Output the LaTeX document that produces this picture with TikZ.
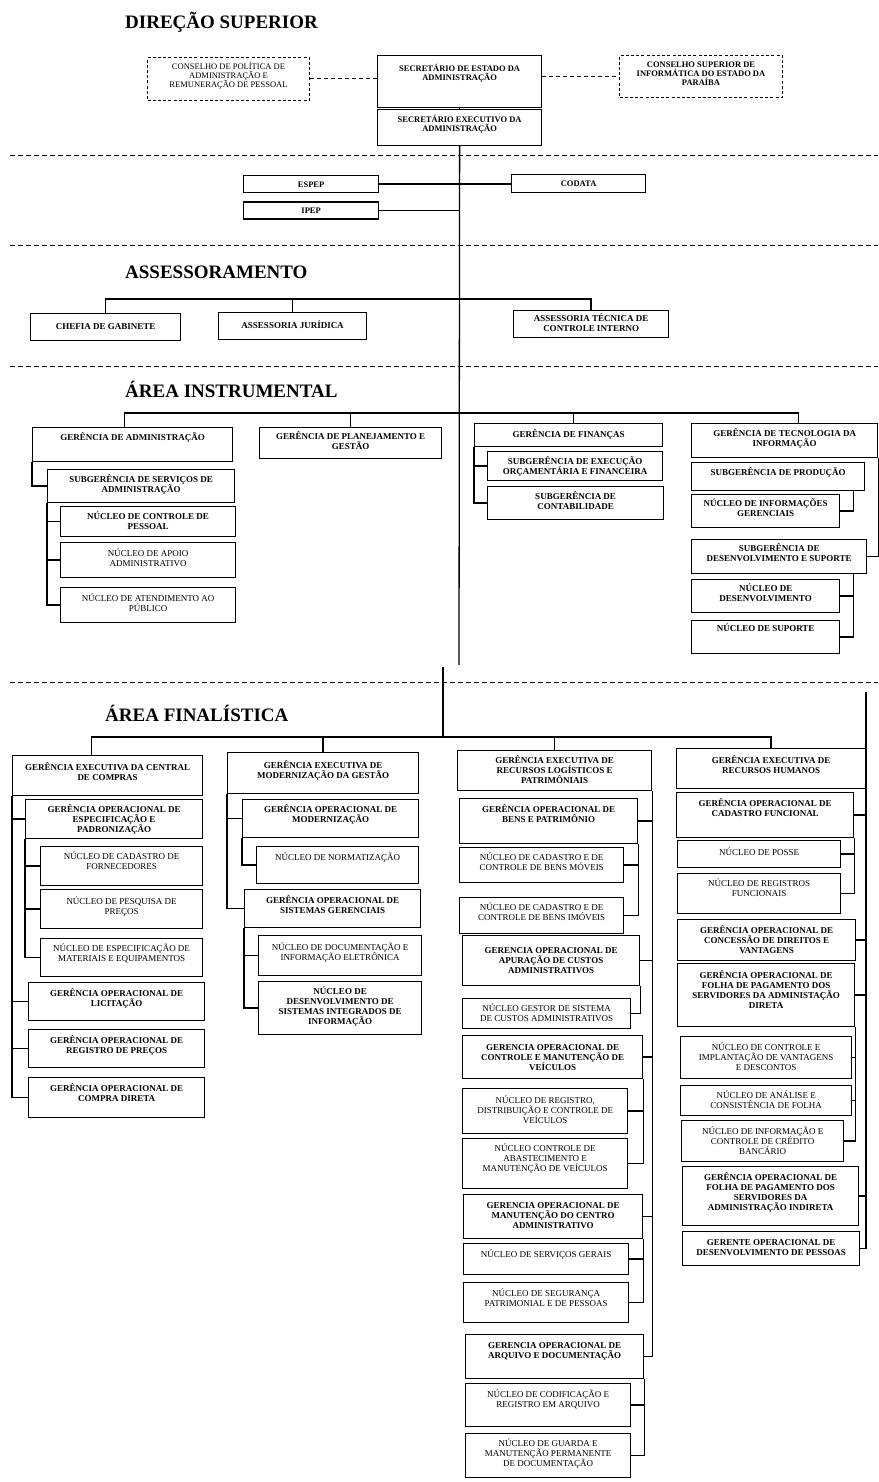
\documentclass[tikz,border=0pt]{standalone}
\usepackage{fontspec}
\setmainfont{Liberation Serif}
\usetikzlibrary{positioning}
\newcommand{\boxtext}[4][13]{\parbox[c][#3pt][t]{#2pt}{\centering\lineskiplimit=-20pt\rule{0pt}{#1pt}#4\par}}

\begin{document}
\begin{tikzpicture}[
x=1pt, y=-1pt,
orgbox/.style={draw=black, line width=1.25pt, inner sep=0pt, anchor=north west, font=\fontsize{9}{10}\selectfont},
boldbox/.style={orgbox, font=\fontsize{9}{10}\selectfont\bfseries},
topbox/.style={orgbox, font=\fontsize{8.5}{9}\selectfont\bfseries},
dashbox/.style={orgbox, dash pattern=on 3pt off 2.2pt, line width=1pt, font=\fontsize{8.5}{9}\selectfont},
areatitle/.style={anchor=base west, inner sep=0pt, font=\fontsize{19}{22}\selectfont\bfseries},
link/.style={draw=black, line width=1.3pt},
dashlink/.style={draw=black, line width=1pt, dash pattern=on 4pt off 3pt},
sepline/.style={draw=black, line width=0.9pt, dash pattern=on 5pt off 3pt}
]
    \useasboundingbox (0,0) rectangle (878,1482);

    %Nodes -- direcao superior
    \node[areatitle] (tdir) at (125,29) {DIREÇÃO SUPERIOR};
    \node[dashbox] (cpa) at (147,57)
        {\boxtext[12]{162}{43}{CONSELHO DE POLÍTICA DE\\ADMINISTRAÇÃO E\\REMUNERAÇÃO DE PESSOAL}};
    \node[topbox] (sea) at (377,55)
        {\boxtext[16]{164}{52}{SECRETÁRIO DE ESTADO DA\\ADMINISTRAÇÃO}};
    \node[dashbox, font=\fontsize{8.5}{9}\selectfont\bfseries] (cse) at (619,55)
        {\boxtext[12]{163}{42}{CONSELHO SUPERIOR DE\\INFORMÁTICA DO ESTADO DA\\PARAÍBA}};
    \node[topbox] (sexa) at (377,109)
        {\boxtext[13]{164}{36}{SECRETÁRIO EXECUTIVO DA\\ADMINISTRAÇÃO}};

    %Nodes -- vinculadas
    \node[topbox] (espep) at (243,175) {\boxtext[12]{135}{17}{ESPEP}};
    \node[topbox, below=8pt of espep] (ipep) {\boxtext[12]{135}{17}{IPEP}};
    \node[topbox] (codata) at (511,174) {\boxtext[12]{134}{18}{CODATA}};

    %Nodes -- assessoramento
    \node[areatitle] (tass) at (125,278) {ASSESSORAMENTO};
    \node[boldbox] (chefia) at (30,313) {\boxtext[16]{150}{27}{CHEFIA DE GABINETE}};
    \node[boldbox] (ajur) at (218,312) {\boxtext[16]{148}{27}{ASSESSORIA JURÍDICA}};
    \node[boldbox] (atci) at (513,310)
        {\boxtext[11]{155}{27}{ASSESSORIA TÉCNICA DE\\CONTROLE INTERNO}};

    %Nodes -- area instrumental
    \node[areatitle] (tins) at (125,397) {ÁREA INSTRUMENTAL};
    \node[boldbox] (gadm) at (32,427) {\boxtext[13]{200}{34}{GERÊNCIA DE ADMINISTRAÇÃO}};
    \node[boldbox] (sgsa) at (47,469)
        {\boxtext[13]{187}{33}{SUBGERÊNCIA DE SERVIÇOS DE\\ADMINISTRAÇÃO}};
    \node[boldbox] (ncp) at (60,506) {\boxtext[13]{175}{30}{NÚCLEO DE CONTROLE DE\\PESSOAL}};
    \node[orgbox] (naa) at (60,542) {\boxtext[14]{175}{35}{NÚCLEO DE APOIO\\ADMINISTRATIVO}};
    \node[orgbox] (nap) at (60,587) {\boxtext[14]{175}{35}{NÚCLEO DE ATENDIMENTO AO\\PÚBLICO}};
    \node[boldbox] (gpg) at (259,427)
        {\boxtext[12]{182}{31}{GERÊNCIA DE PLANEJAMENTO E\\GESTÃO}};
    \node[boldbox] (gfin) at (474,423) {\boxtext[14]{188}{23}{GERÊNCIA DE FINANÇAS}};
    \node[boldbox] (seof) at (487,451)
        {\boxtext[13]{175}{29}{SUBGERÊNCIA DE EXECUÇÃO\\ORÇAMENTÁRIA E FINANCEIRA}};
    \node[boldbox] (scont) at (487,486) {\boxtext[13]{176}{33}{SUBGERÊNCIA DE\\CONTABILIDADE}};
    \node[boldbox] (gti) at (691,423)
        {\boxtext[13]{186}{34}{GERÊNCIA DE  TECNOLOGIA DA\\INFORMAÇÃO}};
    \node[boldbox] (sprod) at (691,462) {\boxtext[13]{173}{28}{SUBGERÊNCIA DE PRODUÇÃO}};
    \node[boldbox] (nig) at (691,494)
        {\boxtext[12]{148}{33}{NÚCLEO DE INFORMAÇÕES\\GERENCIAIS}};
    \node[boldbox] (sds) at (691,539)
        {\boxtext[12]{175}{34}{SUBGERÊNCIA DE\\DESENVOLVIMENTO E SUPORTE}};
    \node[boldbox] (ndes) at (691,579) {\boxtext[12]{148}{33}{NÚCLEO DE\\DESENVOLVIMENTO}};
    \node[boldbox] (nsup) at (691,620) {\boxtext[11]{148}{33}{NÚCLEO DE SUPORTE}};

    %Nodes -- area finalistica
    \node[areatitle] (tfin) at (105,721) {ÁREA FINALÍSTICA};
    % central de compras
    \node[boldbox] (gecc) at (12,755)
        {\boxtext[15]{190}{40}{GERÊNCIA EXECUTIVA DA CENTRAL\\DE COMPRAS}};
    \node[boldbox] (goep) at (25,799)
        {\boxtext[13]{177}{39}{GERÊNCIA OPERACIONAL DE\\ESPECIFICAÇÃO E\\PADRONIZAÇÃO}};
    \node[orgbox] (ncf) at (40,846) {\boxtext[13]{162}{39}{NÚCLEO DE CADASTRO DE\\FORNECEDORES}};
    \node[orgbox] (npp) at (40,889) {\boxtext[15]{162}{39}{NÚCLEO DE PESQUISA DE\\PREÇOS}};
    \node[orgbox] (nemq) at (40,938)
        {\boxtext[13]{162}{38}{NÚCLEO DE ESPECIFICAÇÃO DE\\MATERIAIS E EQUIPAMENTOS}};
    \node[boldbox] (golic) at (28,982) {\boxtext[14]{176}{38}{GERÊNCIA OPERACIONAL DE\\LICITAÇÃO}};
    \node[boldbox] (gorp) at (28,1029)
        {\boxtext[14]{176}{38}{GERÊNCIA OPERACIONAL DE\\REGISTRO DE PREÇOS}};
    \node[boldbox] (gocd) at (28,1077)
        {\boxtext[14]{176}{40}{GERÊNCIA OPERACIONAL DE\\COMPRA DIRETA}};
    % modernizacao
    \node[boldbox] (gemg) at (227,752)
        {\boxtext[16]{191}{41}{GERÊNCIA EXECUTIVA DE\\MODERNIZAÇÃO DA GESTÃO}};
    \node[boldbox] (gomod) at (242,799)
        {\boxtext[13]{176}{38}{GERÊNCIA OPERACIONAL DE\\MODERNIZAÇÃO}};
    \node[orgbox] (nnorm) at (256,846) {\boxtext[14]{162}{37}{NÚCLEO DE NORMATIZAÇÃO}};
    \node[boldbox] (gosg) at (244,889)
        {\boxtext[14]{176}{38}{GERÊNCIA OPERACIONAL DE\\SISTEMAS GERENCIAIS}};
    \node[orgbox] (ndie) at (258,935)
        {\boxtext[15]{163}{40}{NÚCLEO DE DOCUMENTAÇÃO E\\INFORMAÇÃO ELETRÔNICA}};
    \node[boldbox] (ndsi) at (258,981)
        {\boxtext[13]{163}{53}{NÚCLEO DE\\DESENVOLVIMENTO DE\\SISTEMAS INTEGRADOS DE\\INFORMAÇÃO}};
    % recursos logisticos
    \node[boldbox] (gerl) at (457,750)
        {\boxtext[13]{194}{40}{GERÊNCIA EXECUTIVA DE\\RECURSOS LOGÍSTICOS E\\PATRIMÔNIAIS}};
    \node[boldbox] (gobp) at (459,798)
        {\boxtext[14]{178}{45}{GERÊNCIA OPERACIONAL DE\\BENS E PATRIMÔNIO}};
    \node[orgbox] (nbm) at (459,847)
        {\boxtext[13]{164}{35}{NÚCLEO DE CADASTRO E  DE\\CONTROLE DE BENS MÓVEIS}};
    \node[orgbox] (nbi) at (459,897)
        {\boxtext[13]{164}{36}{NÚCLEO DE CADASTRO E DE\\CONTROLE DE BENS IMÓVEIS}};
    \node[boldbox] (goac) at (462,935)
        {\boxtext[18]{177}{50}{GERENCIA OPERACIONAL DE\\APURAÇÃO DE CUSTOS\\ADMINISTRATIVOS}};
    \node[orgbox] (ngsc) at (462,998)
        {\boxtext[13]{168}{30}{NÚCLEO GESTOR DE SISTEMA\\DE CUSTOS ADMINISTRATIVOS}};
    \node[boldbox] (gocmv) at (462,1035)
        {\boxtext[15]{180}{43}{GERENCIA OPERACIONAL DE\\CONTROLE E MANUTENÇÃO DE\\VEÍCULOS}};
    \node[orgbox] (nrdv) at (462,1088)
        {\boxtext[15]{165}{45}{NÚCLEO DE REGISTRO,\\DISTRIBUIÇÃO E CONTROLE DE\\VEÍCULOS}};
    \node[orgbox] (ncam) at (462,1138)
        {\boxtext[13]{165}{50}{NÚCLEO CONTROLE DE\\ABASTECIMENTO E\\MANUTENÇÃO DE VEÍCULOS}};
    \node[boldbox] (gomca) at (463,1194)
        {\boxtext[14]{179}{44}{GERENCIA OPERACIONAL DE\\MANUTENÇÃO DO CENTRO\\ADMINISTRATIVO}};
    \node[orgbox] (nsg) at (463,1243) {\boxtext[14]{165}{31}{NÚCLEO DE SERVIÇOS GERAIS}};
    \node[orgbox] (nspp) at (463,1282)
        {\boxtext[14]{165}{40}{NÚCLEO DE SEGURANÇA\\PATRIMONIAL E DE PESSOAS}};
    \node[boldbox] (goad) at (465,1334)
        {\boxtext[14]{178}{44}{GERENCIA OPERACIONAL DE\\ARQUIVO E DOCUMENTAÇÃO}};
    \node[orgbox] (ncra) at (465,1383)
        {\boxtext[14]{165}{43}{NÚCLEO DE CODIFICAÇÃO E\\REGISTRO EM ARQUIVO}};
    \node[orgbox] (ngmp) at (465,1433)
        {\boxtext[13]{165}{44}{NÚCLEO DE GUARDA E\\MANUTENÇÃO PERMANENTE\\DE DOCUMENTAÇÃO}};
    % recursos humanos
    \node[boldbox] (gerh) at (676,748)
        {\boxtext[15]{189}{40}{GERÊNCIA EXECUTIVA DE\\RECURSOS HUMANOS}};
    \node[boldbox] (gocf) at (676,792)
        {\boxtext[14]{177}{45}{GERÊNCIA OPERACIONAL DE\\CADASTRO FUNCIONAL}};
    \node[orgbox] (npos) at (677,840) {\boxtext[15]{163}{27}{NÚCLEO DE POSSE}};
    \node[orgbox] (nrf) at (677,873) {\boxtext[13]{163}{40}{NÚCLEO DE REGISTROS\\FUNCIONAIS}};
    \node[boldbox] (gocdv) at (677,919)
        {\boxtext[14]{178}{41}{GERÊNCIA OPERACIONAL DE\\CONCESSÃO DE DIREITOS E\\VANTAGENS}};
    \node[boldbox] (gofd) at (677,963)
        {\boxtext[15]{177}{63}{GERÊNCIA OPERACIONAL DE\\FOLHA DE PAGAMENTO DOS\\SERVIDORES DA ADMINISTAÇÃO\\DIRETA}};
    \node[orgbox] (ncivd) at (680,1036)
        {\boxtext[14]{171}{42}{NÚCLEO DE CONTROLE E\\IMPLANTAÇÃO DE VANTAGENS\\E DESCONTOS}};
    \node[orgbox] (nacf) at (680,1085)
        {\boxtext[13]{171}{30}{NÚCLEO DE ANÁLISE E\\CONSISTÊNCIA DE FOLHA}};
    \node[orgbox] (nicc) at (681,1120)
        {\boxtext[14]{162}{41}{NÚCLEO DE INFORMAÇÃO E\\CONTROLE DE CRÉDITO\\BANCÁRIO}};
    \node[boldbox] (gofi) at (682,1166)
        {\boxtext[14]{176}{59}{GERÊNCIA OPERACIONAL DE\\FOLHA DE PAGAMENTO DOS\\SERVIDORES DA\\ADMINISTRAÇÃO INDIRETA}};
    \node[boldbox] (godp) at (682,1231)
        {\boxtext[14]{177}{34}{GERENTE OPERACIONAL DE\\DESENVOLVIMENTO DE PESSOAS}};

    %Coordinates
    \coordinate (mainend) at (459,665);
    \coordinate (bass) at (459,299);
    \coordinate (binst) at (459,413);
    \coordinate (fintop) at (443,667);
    \coordinate (bfin) at (443,737);
    \coordinate (rhtop) at (866,692);

    %Separators
    \draw[sepline] (10,155) -- (878,155);
    \draw[sepline] (10,245) -- (878,245);
    \draw[sepline] (10,366) -- (878,366);
    \draw[sepline] (10,682) -- (878,682);

    %Lines
    \draw[dashlink] (cpa.east) -- (cpa.east -| sea.west);
    \draw[dashlink] (cse.west -| sea.east) -- (cse.west);
    \draw[link] (sea.south) -- (sexa.north);
    \draw[link] (sexa.south) -- (mainend);
    \draw[link] (espep.east) -- (espep.east -| codata.west);
    \draw[link] (ipep.east) -- (ipep.east -| mainend);
    \draw[link] (chefia.north) |- (bass) -| (atci.north);
    \draw[link] (ajur.north) -- (ajur.north |- bass);
    \draw[link] ([xshift=-8pt]gadm.north) |- (binst) -| ([xshift=14pt]gti.north);
    \draw[link] (gpg.north) -- (gpg.north |- binst);
    \draw[link] ([xshift=5pt]gfin.north) -- ([xshift=5pt]gfin.north |- binst);
    \draw[link] (gadm.south west) |- (sgsa.west);
    \draw[link] (sgsa.south west) |- (ncp.west) (sgsa.south west) |- (naa.west)
        (sgsa.south west) |- (nap.west);
    \draw[link] (gfin.south west) |- (seof.west) (gfin.south west) |- (scont.west);
    \draw[link] ([xshift=-12pt]sprod.south east) |- (nig.east);
    \draw[link] (gti.south east) |- (sds.east);
    \draw[link] ([xshift=-14pt]sds.south east) |- (ndes.east)
        ([xshift=-14pt]sds.south east) |- (nsup.east);

    \draw[link] (fintop) -- (bfin);
    \draw[link] ([xshift=-16pt]gecc.north) |- (bfin) -| (gerh.north);
    \draw[link] (gemg.north) -- (gemg.north |- bfin);
    \draw[link] (gerl.north) -- (gerl.north |- bfin);

    \draw[link] (gecc.south west) |- (goep.west) (gecc.south west) |- (golic.west)
        (gecc.south west) |- (gorp.west) (gecc.south west) |- (gocd.west);
    \draw[link] (goep.south west) |- (ncf.west) (goep.south west) |- (npp.west)
        (goep.south west) |- (nemq.west);

    \draw[link] (gemg.south west) |- (gomod.west) (gemg.south west) |- (gosg.west);
    \draw[link] (gomod.south west) |- (nnorm.west);
    \draw[link] (gosg.south west) |- (ndie.west) (gosg.south west) |- (ndsi.west);

    \draw[link] (gerl.south east) |- (gobp.east) (gerl.south east) |- (goac.east)
        (gerl.south east) |- (gocmv.east) (gerl.south east) |- (gomca.east)
        (gerl.south east) |- (goad.east);
    \draw[link] (gobp.south east) |- (nbm.east) (gobp.south east) |- (nbi.east);
    \draw[link] (goac.south east) |- (ngsc.east);
    \draw[link] (gocmv.south east) |- (nrdv.east) (gocmv.south east) |- (ncam.east);
    \draw[link] (gomca.south east) |- (nsg.east) (gomca.south east) |- (nspp.east);
    \draw[link] (goad.south east) |- (ncra.east) (goad.south east) |- (ngmp.east);

    \draw[link] (rhtop) |- (godp.east);
    \draw[link] (gocf.east) -- (gocf.east -| rhtop);
    \draw[link] (gocdv.east) -- (gocdv.east -| rhtop);
    \draw[link] (gofd.east) -- (gofd.east -| rhtop);
    \draw[link] (gofi.east) -- (gofi.east -| rhtop);
    \draw[link] (gocf.south east) |- (npos.east) (gocf.south east) |- (nrf.east);
    \draw[link] (gofd.south east) |- (ncivd.east) (gofd.south east) |- (nacf.east)
        (gofd.south east) |- (nicc.east);
\end{tikzpicture}
\end{document}
